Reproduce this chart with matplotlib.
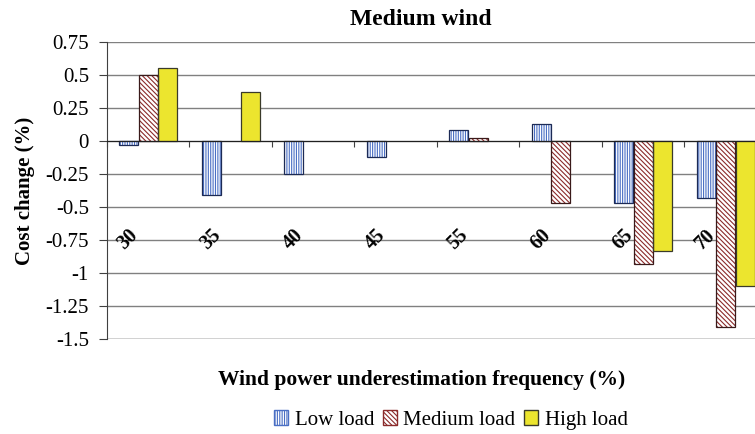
import numpy as np
import matplotlib
matplotlib.use('Agg')
import matplotlib.pyplot as plt
from matplotlib.patches import Patch

# Data
categories = ['30', '35', '40', '45', '55', '60', '65', '70']
low_load = [-0.03, -0.41, -0.25, -0.12, 0.08, 0.13, -0.47, -0.43]
medium_load = [0.50, 0.0, 0.0, 0.0, 0.02, -0.47, -0.93, -1.41]
high_load = [0.55, 0.37, 0.0, 0.0, 0.0, 0.0, -0.83, -1.10]
y_ticks = [0.75, 0.5, 0.25, 0, -0.25, -0.5, -0.75, -1, -1.25, -1.5]
y_tick_labels = ['0.75', '0.5', '0.25', '0', '-0.25', '-0.5', '-0.75', '-1', '-1.25', '-1.5']

plt.rcParams['font.family'] = 'serif'
plt.rcParams['font.serif'] = ['Liberation Serif', 'DejaVu Serif']
plt.rcParams['hatch.linewidth'] = 0.8

LOW_HATCH = '|' * 7
MED_HATCH = '\\' * 7

fig = plt.figure(figsize=(7.55, 4.34), dpi=100)
ax = fig.add_axes([0.1417, 0.219, 0.874, 0.684])

x = np.arange(len(categories))
w = 0.232
off = 0.236

# each series: hatch layer + outline layer
series = [
    (low_load, -off, 'white', '#4a6fc4', LOW_HATCH, '#1c2a55'),
    (medium_load, 0.0, 'white', '#8b2a2a', MED_HATCH, '#3a1a1a'),
    (high_load, off, '#ece52e', '#ece52e', None, '#3a3a2a'),
]
for vals, dx, fc, hc, hatch, ec in series:
    vals = np.array(vals)
    mask = vals != 0
    ax.bar(x[mask] + dx, vals[mask], width=w, color=fc, edgecolor=hc,
           hatch=hatch, linewidth=0, zorder=3)
    ax.bar(x[mask] + dx, vals[mask], width=w, fill=False, edgecolor=ec,
           linewidth=0.9, zorder=4)

ax.set_xlim(-0.5, len(categories) - 0.5)
ax.set_ylim(-1.5, 0.75)
ax.set_yticks(y_ticks)
ax.set_yticklabels(y_tick_labels, fontsize=15)
ax.yaxis.grid(True, color='#808080', linewidth=1.0, zorder=0)
ax.set_axisbelow(True)

# x axis sits on zero, ticks at category boundaries
ax.spines['bottom'].set_position(('data', 0))
ax.spines['bottom'].set_color('#202020')
ax.spines['bottom'].set_zorder(5)
ax.set_xticks(np.arange(len(categories) + 1) - 0.5)
ax.set_xticklabels([])
ax.tick_params(axis='x', direction='out', length=4, color='#404040')
ax.tick_params(axis='y', direction='out', length=6, color='#404040', pad=7)
ax.spines['top'].set_visible(False)
ax.spines['right'].set_visible(False)
ax.spines['left'].set_color('#404040')

# bottom border line at -1.5
ax.axhline(-1.5, color='#808080', linewidth=1.0, zorder=1)

# rotated category labels inside the plot
for i, lab in enumerate(categories):
    ax.text(i - 0.245, -0.745, lab, rotation=45, ha='center', va='center',
            fontsize=14.5, fontweight='bold', zorder=6)

ax.set_title('Medium wind', fontsize=17, fontweight='bold', x=0.476, pad=12)
fig.text(0.033, 0.56, 'Cost change (%)', rotation=90, ha='center', va='center',
         fontsize=15, fontweight='bold')
fig.text(0.559, 0.125, 'Wind power underestimation frequency (%)', ha='center',
         va='center', fontsize=15.5, fontweight='bold')

handles = [
    Patch(facecolor='white', edgecolor='#4a6fc4', hatch=LOW_HATCH),
    Patch(facecolor='white', edgecolor='#8b2a2a', hatch=MED_HATCH),
    Patch(facecolor='#ece52e', edgecolor='#3a3a2a'),
]
fig.legend(handles, ['Low load', 'Medium load', 'High load'], loc='center',
           bbox_to_anchor=(0.597, 0.032), ncol=3, frameon=False, fontsize=15,
           handlelength=0.7, handleheight=0.7, handletextpad=0.3,
           columnspacing=0.4)

fig.savefig('out.png', dpi=100)
